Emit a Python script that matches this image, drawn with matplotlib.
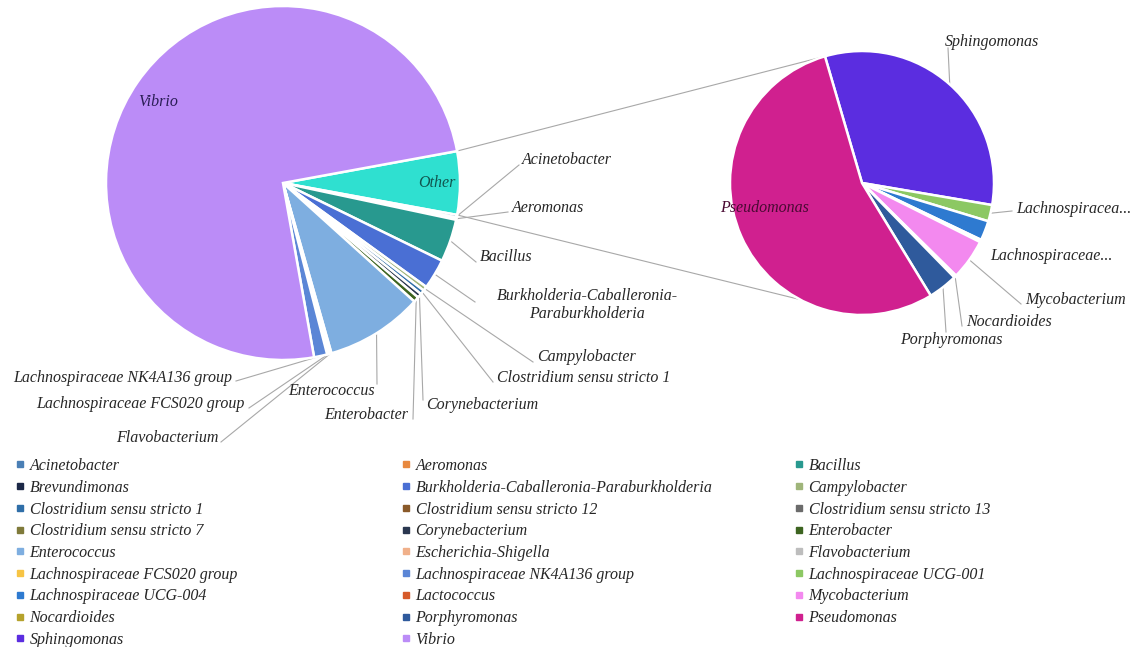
import numpy as np
import matplotlib.pyplot as plt
from matplotlib.lines import Line2D

W, H = 1138, 647

# relative abundance (%) - slices of the main pie, clockwise after "Other"
main_names = ['Acinetobacter', 'Aeromonas', 'Bacillus',
              'Burkholderia-Caballeronia-Paraburkholderia', 'Campylobacter',
              'Clostridium sensu stricto 1', 'Corynebacterium', 'Enterobacter',
              'Enterococcus', 'Flavobacterium', 'Lachnospiraceae FCS020 group',
              'Lachnospiraceae NK4A136 group', 'Vibrio']
main_vals = [0.25, 0.20, 3.90, 2.75, 0.40, 0.40, 0.40, 0.50, 8.90, 0.20, 0.20,
             1.20, 74.92]

# genera grouped into "Other" (second pie), clockwise from the top
sub_names = ['Sphingomonas', 'Lachnospiraceae UCG-001', 'Lachnospiraceae UCG-004',
             'Lactococcus', 'Mycobacterium', 'Nocardioides', 'Porphyromonas',
             'Pseudomonas']
sub_vals = [1.86, 0.116, 0.139, 0.017, 0.289, 0.017, 0.208, 3.13]

legend_names = ['Acinetobacter', 'Aeromonas', 'Bacillus', 'Brevundimonas',
                'Burkholderia-Caballeronia-Paraburkholderia', 'Campylobacter',
                'Clostridium sensu stricto 1', 'Clostridium sensu stricto 12',
                'Clostridium sensu stricto 13', 'Clostridium sensu stricto 7',
                'Corynebacterium', 'Enterobacter', 'Enterococcus',
                'Escherichia-Shigella', 'Flavobacterium',
                'Lachnospiraceae FCS020 group', 'Lachnospiraceae NK4A136 group',
                'Lachnospiraceae UCG-001', 'Lachnospiraceae UCG-004', 'Lactococcus',
                'Mycobacterium', 'Nocardioides', 'Porphyromonas', 'Pseudomonas',
                'Sphingomonas', 'Vibrio']

colors = {
    'Other': '#2fe0d0',
    'Acinetobacter': '#4a7fb5',
    'Aeromonas': '#e8893f',
    'Bacillus': '#28998f',
    'Brevundimonas': '#1c2847',
    'Burkholderia-Caballeronia-Paraburkholderia': '#4a6fd4',
    'Campylobacter': '#9fb57a',
    'Clostridium sensu stricto 1': '#2f6ea8',
    'Clostridium sensu stricto 12': '#8a5a2a',
    'Clostridium sensu stricto 13': '#6b6b6b',
    'Clostridium sensu stricto 7': '#7f7a3a',
    'Corynebacterium': '#2a3750',
    'Enterobacter': '#3d6420',
    'Enterococcus': '#7eaee0',
    'Escherichia-Shigella': '#f0b08a',
    'Flavobacterium': '#bdbdbd',
    'Lachnospiraceae FCS020 group': '#f7c444',
    'Lachnospiraceae NK4A136 group': '#5b86d6',
    'Lachnospiraceae UCG-001': '#8cc863',
    'Lachnospiraceae UCG-004': '#2e7ad0',
    'Lactococcus': '#d65a2a',
    'Mycobacterium': '#f389ef',
    'Nocardioides': '#b5a22c',
    'Porphyromonas': '#2f5a9c',
    'Pseudomonas': '#d0208f',
    'Sphingomonas': '#5b2de0',
    'Vibrio': '#bb8cf7',
}

# label layout in pixel coords: text x, text y, ha, leader end (or None)
main_labels = {
    'Acinetobacter': ('Acinetobacter', 522, 160, 'left', (519, 165)),
    'Aeromonas': ('Aeromonas', 512, 208, 'left', (508, 212)),
    'Bacillus': ('Bacillus', 480, 257, 'left', (476, 262)),
    'Burkholderia-Caballeronia-Paraburkholderia':
        ('Burkholderia-Caballeronia-\nParaburkholderia', 587, 305, 'center', (475, 302)),
    'Campylobacter': ('Campylobacter', 537, 357, 'left', (533, 362)),
    'Clostridium sensu stricto 1': ('Clostridium sensu stricto 1', 497, 378, 'left', (493, 382)),
    'Corynebacterium': ('Corynebacterium', 426, 405, 'left', (423, 400)),
    'Enterobacter': ('Enterobacter', 408, 415, 'right', (413, 419)),
    'Enterococcus': ('Enterococcus', 375, 391, 'right', (377, 384)),
    'Flavobacterium': ('Flavobacterium', 218, 438, 'right', (221, 442)),
    'Lachnospiraceae FCS020 group': ('Lachnospiraceae FCS020 group', 245, 404, 'right', (249, 408)),
    'Lachnospiraceae NK4A136 group': ('Lachnospiraceae NK4A136 group', 232, 378, 'right', (236, 381)),
}
sub_labels = {
    'Sphingomonas': ('Sphingomonas', 945, 42, 'left', (948, 48)),
    'Lachnospiraceae UCG-001': ('Lachnospiracea...', 1016, 209, 'left', (1012, 211)),
    'Lachnospiraceae UCG-004': ('Lachnospiraceae...', 990, 256, 'left', None),
    'Mycobacterium': ('Mycobacterium', 1025, 300, 'left', (1021, 304)),
    'Nocardioides': ('Nocardioides', 966, 322, 'left', (962, 326)),
    'Porphyromonas': ('Porphyromonas', 900, 340, 'left', (946, 332)),
}


def px(x, y):
    return x, H - y


plt.rcParams['font.family'] = ['Liberation Serif', 'DejaVu Serif']
plt.rcParams['font.style'] = 'italic'
fs = 11.5
txt_color = '#262626'
line_color = '#a8a8a8'

fig = plt.figure(figsize=(W / 100, H / 100), dpi=100)
ax = fig.add_axes([0, 0, 1, 1])

other_val = sum(sub_vals)
left_vals = [other_val] + main_vals
left_cols = [colors['Other']] + [colors[n] for n in main_names]
total = sum(left_vals)
other_span = other_val / total * 360

left_c, left_r = px(283, 183), 177
right_c, right_r = px(862, 183), 132

wl, _ = ax.pie(left_vals, colors=left_cols, center=left_c, radius=left_r,
               startangle=other_span / 2, counterclock=False,
               wedgeprops=dict(edgecolor='white', linewidth=1.8))
wr, _ = ax.pie(sub_vals, colors=[colors[n] for n in sub_names], center=right_c,
               radius=right_r, startangle=106.3, counterclock=False,
               wedgeprops=dict(edgecolor='white', linewidth=1.8))


def arc_point(w, ang=None):
    if ang is None:
        ang = (w.theta1 + w.theta2) / 2
    a = np.deg2rad(ang)
    return w.center[0] + w.r * np.cos(a), w.center[1] + w.r * np.sin(a)


# lines joining "Other" to the second pie
ow = wl[0]
for a_left, a_right in [(ow.theta2, 106.3), (ow.theta1, 242.0)]:
    p0 = arc_point(ow, a_left)
    p1 = right_c[0] + right_r * np.cos(np.deg2rad(a_right)), right_c[1] + right_r * np.sin(np.deg2rad(a_right))
    ax.plot([p0[0], p1[0]], [p0[1], p1[1]], color=line_color, lw=0.8, zorder=0)


def draw_labels(wedges, names, layout):
    for w, n in zip(wedges, names):
        if n not in layout:
            continue
        text, tx, ty, ha, end = layout[n]
        if end is not None:
            p0 = arc_point(w)
            p1 = px(*end)
            ax.plot([p0[0], p1[0]], [p0[1], p1[1]], color=line_color, lw=0.8, zorder=0)
        ax.text(*px(tx, ty), text, ha=ha, va='center', fontsize=fs,
                color=txt_color, multialignment='center')


draw_labels(wl[1:], main_names, main_labels)
draw_labels(wr, sub_names, sub_labels)

# labels inside the big slices
ax.text(*px(158, 102), 'Vibrio', ha='center', va='center', fontsize=fs, color='#2a1d55')
ax.text(*px(437, 183), 'Other', ha='center', va='center', fontsize=fs, color='#11564f')
ax.text(*px(765, 208), 'Pseudomonas', ha='center', va='center', fontsize=fs, color='#4a0a33')

ax.set_xlim(0, W)
ax.set_ylim(0, H)
ax.set_aspect('equal')
ax.axis('off')

# legend: three columns, filled row by row
col_x = [16, 402, 795]
for k in range(3):
    names = legend_names[k::3]
    handles = [Line2D([], [], marker='s', ls='', markersize=4.5,
                      markerfacecolor=colors[n], markeredgecolor=colors[n]) for n in names]
    leg = fig.legend(handles, names, loc='upper left',
                     bbox_to_anchor=(col_x[k] / W, 1 - 458 / H), frameon=False,
                     fontsize=fs, handlelength=0.55, handletextpad=0.3,
                     labelspacing=0.36, borderpad=0, borderaxespad=0)
    for t in leg.get_texts():
        t.set_color(txt_color)

fig.savefig('out.png', dpi=100)
